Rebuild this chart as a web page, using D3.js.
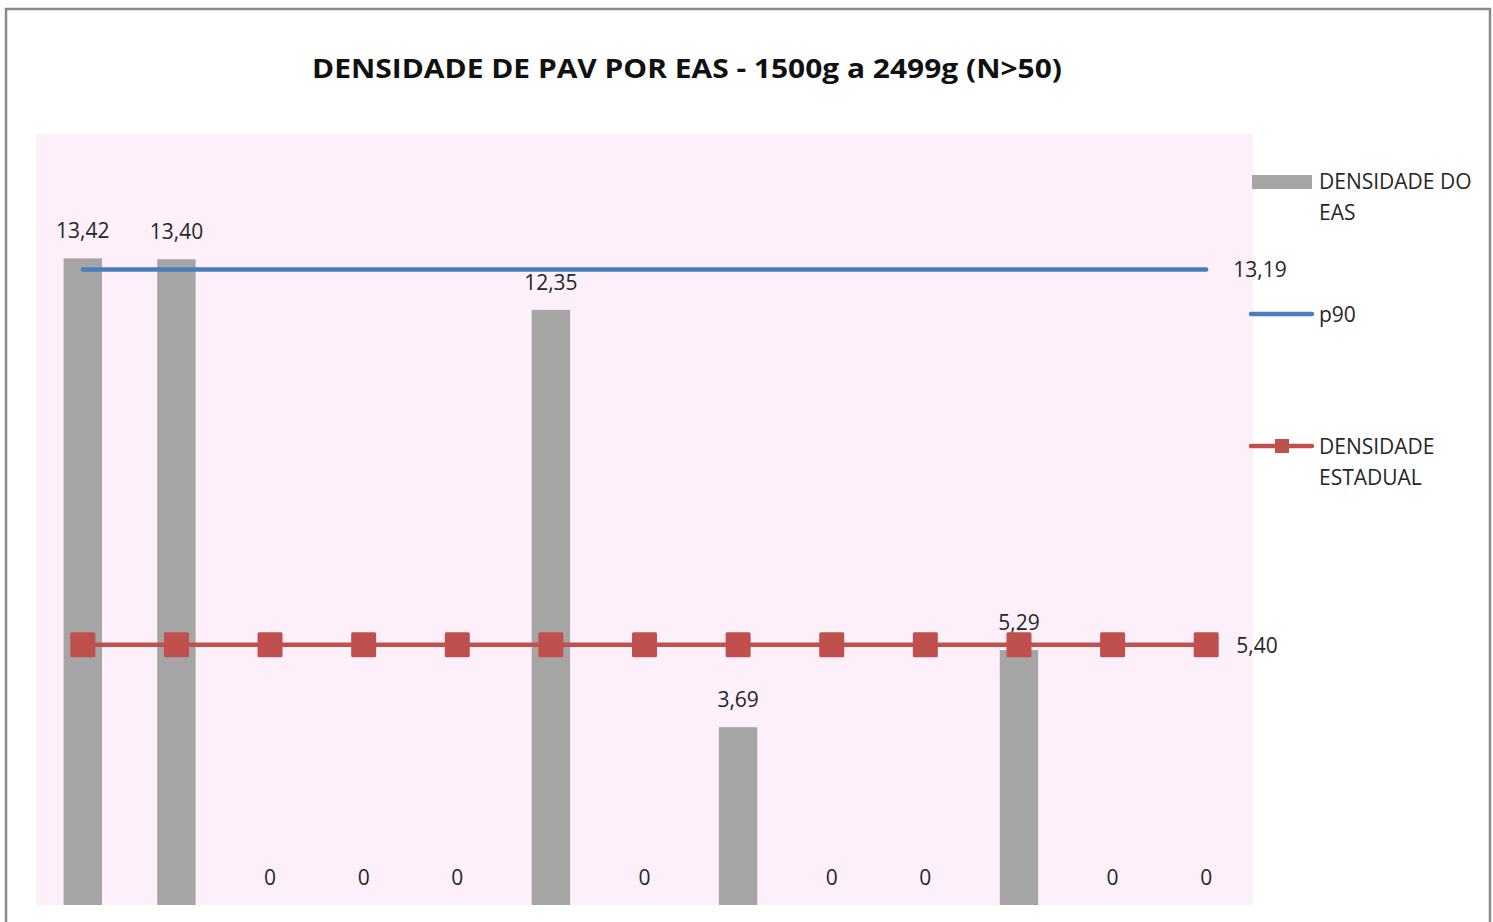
<!DOCTYPE html>
<html>
<head>
<meta charset="utf-8">
<script src="https://cdn.jsdelivr.net/npm/d3@7"></script>
<style>
  body { margin: 0; background: #fff; }
  svg { display: block; font-family: "Open Sans", "Noto Sans", sans-serif; }
</style>
</head>
<body>
<div id="chart"></div>
<script>
// data
const categories = ["1", "2", "3", "4", "5", "6", "7", "8", "9", "10", "11", "12", "13"];
const densidadeEas = [13.42, 13.40, 0, 0, 0, 12.35, 0, 3.69, 0, 0, 5.29, 0, 0];
const p90 = [13.19, 13.19, 13.19, 13.19, 13.19, 13.19, 13.19, 13.19, 13.19, 13.19, 13.19, 13.19, 13.19];
const densidadeEstadual = [5.40, 5.40, 5.40, 5.40, 5.40, 5.40, 5.40, 5.40, 5.40, 5.40, 5.40, 5.40, 5.40];
const yDomain = [0, 16];
const titleText = "DENSIDADE DE PAV POR EAS - 1500g a 2499g (N>50)";

const W = 1493, H = 922;
const plot = { left: 36, right: 1253, top: 134, bottom: 905 };

const fmt = v => v === 0 ? "0" : d3.format(".2f")(v).replace(".", ",");

const svg = d3.select("#chart").append("svg")
    .attr("width", W)
    .attr("height", H);

// outer frame
svg.append("rect")
    .attr("x", 6).attr("y", 9)
    .attr("width", 1484).attr("height", 940)
    .attr("fill", "#fff")
    .attr("stroke", "#8a8a8a")
    .attr("stroke-width", 2.5);

// plot background
svg.append("rect")
    .attr("x", plot.left).attr("y", plot.top)
    .attr("width", plot.right - plot.left)
    .attr("height", plot.bottom - plot.top)
    .attr("fill", "#fdf0fb");

const x = d3.scaleBand()
    .domain(categories)
    .range([plot.left, plot.right])
    .paddingInner(0).paddingOuter(0);

const y = d3.scaleLinear()
    .domain(yDomain)
    .range([plot.bottom, plot.top]);

const cx = d => x(d) + x.bandwidth() / 2;
const barW = x.bandwidth() * 0.41;

// title
svg.append("text")
    .attr("x", 687).attr("y", 78)
    .attr("text-anchor", "middle")
    .attr("font-weight", "bold")
    .attr("font-size", 27)
    .attr("fill", "#111")
    .attr("textLength", 750)
    .attr("lengthAdjust", "spacingAndGlyphs")
    .text(titleText);

// bars
svg.append("g")
    .selectAll("rect")
    .data(categories)
    .enter()
    .append("rect")
    .attr("x", d => cx(d) - barW / 2)
    .attr("y", (d, i) => y(densidadeEas[i]))
    .attr("width", barW)
    .attr("height", (d, i) => y(0) - y(densidadeEas[i]))
    .attr("fill", "#a5a5a5");

// bar labels
svg.append("g")
    .selectAll("text")
    .data(categories)
    .enter()
    .append("text")
    .attr("x", d => cx(d))
    .attr("y", (d, i) => y(densidadeEas[i]) - 20)
    .attr("text-anchor", "middle")
    .attr("font-size", 21)
    .attr("fill", "#262626")
    .text((d, i) => fmt(densidadeEas[i]));

const line = d3.line()
    .x((d, i) => cx(categories[i]))
    .y(d => y(d));

// p90 line
svg.append("path")
    .datum(p90)
    .attr("fill", "none")
    .attr("stroke", "#4a7ebb")
    .attr("stroke-width", 4.5)
    .attr("stroke-linecap", "round")
    .attr("d", line);

svg.append("text")
    .attr("x", cx(categories[categories.length - 1]) + 27)
    .attr("y", y(p90[p90.length - 1]) + 8)
    .attr("font-size", 21)
    .attr("fill", "#262626")
    .text(fmt(p90[p90.length - 1]));

// state density line + markers
svg.append("path")
    .datum(densidadeEstadual)
    .attr("fill", "none")
    .attr("stroke", "#c0504d")
    .attr("stroke-width", 4.5)
    .attr("d", line);

const mk = 25;
svg.append("g")
    .selectAll("rect")
    .data(densidadeEstadual)
    .enter()
    .append("rect")
    .attr("x", (d, i) => cx(categories[i]) - mk / 2)
    .attr("y", d => y(d) - mk / 2)
    .attr("width", mk).attr("height", mk)
    .attr("rx", 1.5)
    .attr("fill", "#c0504d");

svg.append("text")
    .attr("x", cx(categories[categories.length - 1]) + 30)
    .attr("y", y(densidadeEstadual[densidadeEstadual.length - 1]) + 8)
    .attr("font-size", 21)
    .attr("fill", "#262626")
    .text(fmt(densidadeEstadual[densidadeEstadual.length - 1]));

// legend
const lg = svg.append("g").attr("font-size", 21).attr("fill", "#262626");

lg.append("rect")
    .attr("x", 1252).attr("y", 175)
    .attr("width", 60).attr("height", 14)
    .attr("fill", "#a5a5a5");
lg.append("text").attr("x", 1319).attr("y", 189).text("DENSIDADE DO");
lg.append("text").attr("x", 1319).attr("y", 220).text("EAS");

lg.append("line")
    .attr("x1", 1251).attr("x2", 1312)
    .attr("y1", 314).attr("y2", 314)
    .attr("stroke", "#4a7ebb").attr("stroke-width", 4.5)
    .attr("stroke-linecap", "round");
lg.append("text").attr("x", 1319).attr("y", 322).text("p90");

lg.append("line")
    .attr("x1", 1251).attr("x2", 1312)
    .attr("y1", 446).attr("y2", 446)
    .attr("stroke", "#c0504d").attr("stroke-width", 4.5)
    .attr("stroke-linecap", "round");
lg.append("rect")
    .attr("x", 1275).attr("y", 439)
    .attr("width", 14).attr("height", 14)
    .attr("fill", "#c0504d");
lg.append("text").attr("x", 1319).attr("y", 454).text("DENSIDADE");
lg.append("text").attr("x", 1319).attr("y", 485).text("ESTADUAL");
</script>
</body>
</html>
